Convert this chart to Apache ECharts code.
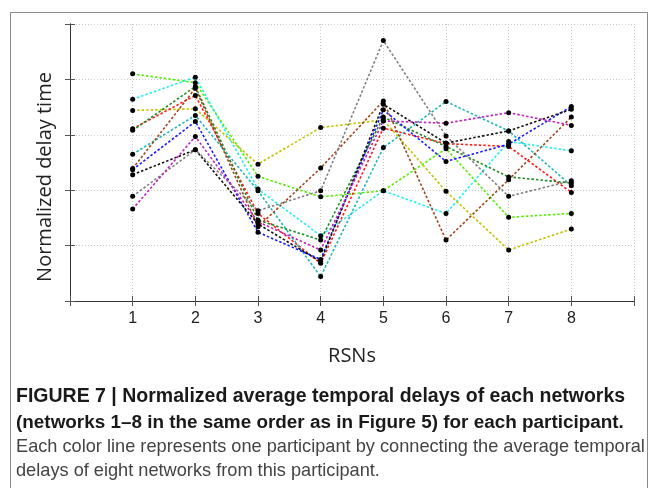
<!DOCTYPE html>
<html>
<head>
    <meta charset="utf-8">
    <title>Figure 7</title>
    <script src="https://cdn.jsdelivr.net/npm/echarts@6/dist/echarts.min.js"></script>
</head>
<body style="margin:0;background:#fff">
<div id="main" style="width:652px;height:488px"></div>
<script type="text/javascript">
    // networks 1-8 on the x axis
    var networks = [1, 2, 3, 4, 5, 6, 7, 8];
    var xTicks = ['1', '2', '3', '4', '5', '6', '7', '8'];

    // one array per participant (normalized delay)
    var lime    = [4.10, 3.94, 2.25, 1.88, 1.99, 2.75, 1.51, 1.58];
    var cyan    = [3.64, 4.04, 2.02, 1.18, 1.99, 1.58, 2.88, 2.71];
    var yellow  = [3.44, 3.47, 2.47, 3.13, 3.27, 1.98, 0.92, 1.30];
    var red     = [3.11, 3.71, 1.58, 0.68, 3.12, 2.84, 2.79, 1.96];
    var dkgreen = [3.08, 3.87, 1.46, 1.10, 3.32, 2.79, 2.24, 2.13];
    var teal    = [2.65, 3.35, 1.99, 0.44, 2.77, 3.60, 3.07, 2.08];
    var brown   = [2.39, 3.84, 1.34, 2.40, 3.61, 1.10, 2.19, 3.32];
    var blue    = [2.37, 3.24, 1.24, 0.75, 3.45, 2.52, 2.83, 3.51];
    var black   = [2.28, 2.73, 1.39, 0.71, 3.55, 2.85, 3.07, 3.46];
    var gray    = [1.89, 2.73, 1.63, 1.99, 4.70, 2.98, 1.89, 2.17];
    var magenta = [1.66, 2.97, 1.43, 0.92, 3.25, 3.21, 3.40, 3.17];

    var participants = [
        {name: 'lime', color: '#55ee00', data: lime},
        {name: 'cyan', color: '#22eeee', data: cyan},
        {name: 'yellow', color: '#c2c200', data: yellow},
        {name: 'red', color: '#ff1a1a', data: red},
        {name: 'dkgreen', color: '#1f8a1f', data: dkgreen},
        {name: 'teal', color: '#1fb5b5', data: teal},
        {name: 'brown', color: '#a0441a', data: brown},
        {name: 'blue', color: '#1a1aff', data: blue},
        {name: 'black', color: '#111111', data: black},
        {name: 'gray', color: '#808080', data: gray},
        {name: 'magenta', color: '#c020c0', data: magenta}
    ];

    var series = participants.map(function (p) {
        return {
            name: p.name,
            type: 'line',
            data: networks.map(function (n, i) { return [n, p.data[i]]; }),
            symbol: 'circle',
            symbolSize: 5,
            itemStyle: {color: '#000'},
            lineStyle: {color: p.color, width: 1.6, type: [2.5, 2]},
            silent: true
        };
    });

    var frame = {lineStyle: {color: '#333', width: 1}};
    var gridDots = {show: true, lineStyle: {color: '#c8c8c8', type: [1, 2], width: 1}};
    var inTicks = {show: true, inside: true, length: 5, lineStyle: {color: '#555'}};

    var myChart = echarts.init(document.getElementById('main'));
    var option = {
        animation: false,
        grid: {left: 70, top: 24, right: 18, bottom: 187},
        xAxis: [
            {
                type: 'value', min: 0, max: 9, interval: 1, position: 'bottom',
                axisLine: frame, axisTick: inTicks,
                axisLabel: {
                    color: '#222', fontSize: 16, margin: 10, fontFamily: 'Liberation Sans',
                    formatter: function (v) { return (v >= 1 && v <= 8) ? xTicks[v - 1] : ''; }
                },
                splitLine: gridDots,
                name: 'RSNs', nameLocation: 'middle', nameGap: 45,
                nameTextStyle: {color: '#222', fontSize: 20, fontFamily: 'Open Sans'}
            },
            {
                type: 'value', min: 0, max: 9, interval: 1, position: 'top',
                axisLine: frame, axisTick: inTicks,
                axisLabel: {show: false}, splitLine: {show: false}
            }
        ],
        yAxis: [
            {
                type: 'value', min: 0, max: 5, interval: 1, position: 'left',
                axisLine: {show: true, lineStyle: {color: '#333', width: 1}},
                axisTick: inTicks,
                axisLabel: {show: false},
                splitLine: gridDots
            },
            {
                type: 'value', min: 0, max: 5, interval: 1, position: 'right',
                axisLine: {show: true, lineStyle: {color: '#333', width: 1}},
                axisTick: inTicks,
                axisLabel: {show: false}, splitLine: {show: false}
            }
        ],
        graphic: [
            {
                type: 'rect', left: 8, top: 10, silent: true,
                shape: {width: 637, height: 500},
                style: {fill: null, stroke: '#8a8a8a', lineWidth: 1}
            },
            {
                type: 'text', x: 45, y: 177, rotation: Math.PI / 2,
                style: {
                    text: 'Normalized delay time', align: 'center', verticalAlign: 'middle',
                    font: '20px "Open Sans"', fill: '#222'
                }
            },
            {
                type: 'text', x: 16, y: 397,
                style: {
                    text: 'FIGURE 7 | Normalized average temporal delays of each networks',
                    verticalAlign: 'middle', font: 'bold 19.5px "Liberation Sans"', fill: '#1a1a1a'
                }
            },
            {
                type: 'text', x: 16, y: 423,
                style: {
                    text: '(networks 1\u20138 in the same order as in Figure 5) for each participant.',
                    verticalAlign: 'middle', font: 'bold 18.9px "Liberation Sans"', fill: '#1a1a1a'
                }
            },
            {
                type: 'text', x: 16, y: 447,
                style: {
                    text: 'Each color line represents one participant by connecting the average temporal',
                    verticalAlign: 'middle', font: '18.2px "Liberation Sans"', fill: '#444'
                }
            },
            {
                type: 'text', x: 16, y: 471,
                style: {
                    text: 'delays of eight networks from this participant.',
                    verticalAlign: 'middle', font: '18.2px "Liberation Sans"', fill: '#444'
                }
            }
        ],
        series: series
    };
    myChart.setOption(option);
</script>
</body>
</html>
